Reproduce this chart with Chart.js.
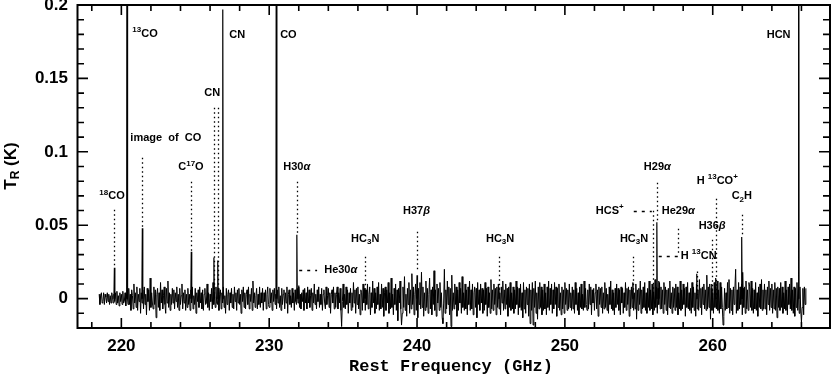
<!DOCTYPE html>
<html><head><meta charset="utf-8">
<script src="https://cdn.jsdelivr.net/npm/chart.js@4"></script>
<style>html,body{margin:0;padding:0;background:#fff;}#wrap{width:831px;height:375px;}</style>
</head><body><div id="wrap"><canvas id="c" width="831" height="375"></canvas></div>
<script>
// ---------------- DATA ----------------
// Baseline noise of the spectrum, mK, channels every 0.05 GHz starting at 218.5 GHz (one row = 1 GHz)
const noiseStartGHz = 218.5;
const noiseStepGHz = 0.05;
const noiseMK = [
3,-4,2,4,-3,-2,4,-4,3,1,-3,4,-2,3,-4,2,-3,4,1,-3,
3,-2,4,-4,5,-3,2,-5,4,-2,3,-4,5,-3,-2,4,-5,3,2,-4,
7,-4,3,-8,6,2,-7,10,-3,4,-6,8,-8,3,-2,7,-10,4,-3,6,
-7,8,-4,3,-11,7,-2,6,-8,14,-6,4,-3,-7,8,-4,6,-13,3,7,
-6,4,-8,11,-3,6,-7,2,8,-4,-10,7,-3,12,-6,4,-8,3,-4,7,
-3,6,-7,4,-2,8,-6,3,-8,7,-4,2,10,-7,4,-3,6,-8,3,-6,
7,-4,3,-8,6,-3,8,-7,2,-4,7,-10,4,-2,6,-6,8,-3,4,-7,
6,-8,3,7,-4,-3,10,-6,4,-8,3,-2,7,-7,11,-4,3,-6,8,-3,
-4,7,-8,3,6,-7,4,-3,8,-6,2,-10,7,-4,3,6,-8,4,-3,7,
-6,3,-7,8,-2,4,-8,6,-3,7,-4,3,-10,6,-2,8,-6,4,-7,3,
6,-4,8,-7,3,-2,7,-8,12,-3,4,-6,2,7,-7,3,-4,8,-6,4,
-3,7,-8,4,-2,6,-7,3,8,-4,-6,7,-3,4,-8,6,-2,7,-4,3,
-7,6,-3,8,-6,2,-8,7,-4,3,6,-7,4,-3,8,-10,3,6,-4,2,
-6,7,-3,4,-8,6,-2,-4,7,-3,8,-6,3,-7,4,-2,6,-8,7,-3,
4,-7,8,-3,6,-6,2,7,-8,4,-3,10,-4,3,-7,6,-2,8,-6,3,
-4,7,-8,3,6,-3,-7,8,-4,2,7,-6,4,-10,3,6,-3,8,-7,4,
-6,3,8,-7,4,-3,7,-8,-19,-2,10,-6,3,-7,8,-4,6,-10,4,-3,
7,-8,4,-6,11,-3,6,-10,7,-4,8,-7,3,-11,6,4,-8,10,-3,7,
-8,6,-4,10,-7,3,8,-11,4,-6,12,-3,7,-10,4,-7,8,-4,11,-8,
3,-7,10,-6,7,-12,4,8,-8,6,-3,11,-10,4,-7,14,-6,3,-11,7,
-4,10,-8,6,-15,7,-3,12,-7,-18,-10,8,-6,15,-8,3,-12,7,-4,11,
-10,6,-7,17,-4,8,-11,3,10,-8,6,-13,7,-4,11,-7,18,-6,8,-12,
4,-8,12,-6,7,-10,3,14,-7,6,-11,8,-4,19,-8,6,-12,10,-3,7,
-8,11,-6,4,-13,-17,-3,20,-10,6,-7,12,-4,8,-11,7,-19,16,-8,4,
-7,10,-4,8,-12,6,-8,11,-3,7,-10,15,-6,4,-8,10,-7,6,-11,8,
-4,12,-8,6,-7,10,-11,4,8,-6,7,-13,11,-4,6,-8,10,-3,7,-10,
6,-8,11,-4,7,-12,8,-6,4,-10,13,-7,6,-8,10,-4,7,-11,8,-6,
10,-7,4,-11,8,-3,12,-8,6,-7,10,-4,7,-12,8,-6,11,-8,4,-7,
8,-10,6,-7,12,-4,8,-11,7,-6,10,-8,4,-13,11,-7,6,-10,8,-4,
7,-12,10,-17,6,-8,11,-18,7,-6,12,-10,4,-14,8,-7,11,-6,8,-11,
6,-8,10,-7,4,-11,8,-6,12,-8,7,-4,10,-10,6,-7,11,-4,8,-12,
7,-6,10,-8,4,-11,8,-7,6,-10,11,-4,7,-8,6,-7,10,-6,4,-8,
8,-7,6,-10,11,-4,7,-8,4,-11,8,-6,10,-7,3,-8,12,-6,7,-4,
-8,6,-7,10,-4,8,-11,6,-3,7,-8,4,10,-7,6,-12,8,-4,7,-6,
8,-10,4,-7,11,-6,7,-8,3,-10,8,-4,12,-7,6,-8,4,-11,7,-6,
10,-4,7,-8,6,-11,8,-3,7,-10,4,-6,11,-8,7,-4,8,-12,6,-7,
8,-6,11,-8,4,-7,10,-14,6,-8,7,-4,12,-10,6,-7,8,-6,11,-8,
4,-10,7,-6,12,-8,6,-7,10,-11,4,-8,13,-6,8,-10,7,-4,11,-7,
8,-7,6,-10,11,-4,8,-8,6,-11,7,-6,12,-7,4,-10,8,-6,7,-8,
10,-6,8,-11,4,-7,12,-8,6,-7,10,-4,7,-12,8,-6,11,-7,4,-8,
7,-10,11,-6,8,-8,4,-12,10,-7,6,-8,13,-6,7,-11,8,-4,10,-7,
6,-8,16,-7,8,-6,10,-14,7,-8,4,-10,11,-6,8,-7,12,-8,6,-10,
11,-7,8,-6,-18,-12,7,-8,4,-7,11,-6,13,-10,7,-8,6,-11,8,-4,
7,20,-10,6,-8,11,-7,8,-4,10,-11,7,-6,8,-10,12,-7,6,-8,11,
8,-6,12,-8,7,-10,6,-7,11,-8,4,-12,8,-6,10,-7,13,-8,6,-7,
10,-7,6,-11,8,-4,12,-8,7,-6,10,-10,6,-7,11,-8,7,-13,8,-6,
7,-8,11,-6,8,-10,4,-7,12,-8,6,-11,8,-4,10,-7,14,-8,6,-10,
8,-12,7,-6,11,-8,6,-10,8,-7,-16,-6,7,-11,8,-4,7
];
// Spectral lines: frequency (GHz) and peak T_R (K); strongest ones run off the top
const lineFreqs = [219.53, 220.39, 221.42, 224.73, 226.26, 226.52, 226.86, 230.49, 231.87, 232.00, 236.49, 240.00, 245.54, 254.59, 255.95, 256.22, 256.35, 258.92, 259.93, 260.20, 261.96, 262.03, 265.81];
const linePeaks = [0.021, 0.5, 0.048, 0.032, 0.028, 0.026, 0.197, 0.5, 0.0435, 0.009, 0.006, 0.016, 0.008, 0.006, 0.010, 0.052, 0.012, 0.017, 0.010, 0.014, 0.042, 0.018, 0.5];
// Tick values
const xTicks = [218,220,222,224,226,228,230,232,234,236,238,240,242,244,246,248,250,252,254,256,258,260,262,264,266,268];
const xTickLabels = ['220','230','240','250','260'];
const yTicks = [-0.02,-0.01,0,0.01,0.02,0.03,0.04,0.05,0.06,0.07,0.08,0.09,0.1,0.11,0.12,0.13,0.14,0.15,0.16,0.17,0.18,0.19,0.2];
const yTickLabels = ['0','0.05','0.1','0.15','0.2'];

// ---------------- ANNOTATION LAYOUT (data units) ----------------
const labelLayout = [
 {t:'^{13}CO', x:220.74, y:0.1806},
 {t:'CN', x:227.30, y:0.1799},
 {t:'CO', x:230.74, y:0.1799},
 {t:'HCN', x:263.65, y:0.1796},
 {t:'CN', x:225.61, y:0.1398},
 {t:'image  of  CO', x:220.61, y:0.1092},
 {t:'C^{17}O', x:223.85, y:0.0895},
 {t:'^{18}CO', x:218.51, y:0.0697},
 {t:'H30α', x:230.95, y:0.0895},
 {t:'He30α', x:233.72, y:0.0197},
 {t:'HC_{3}N', x:235.54, y:0.0405},
 {t:'H37β', x:239.05, y:0.0599},
 {t:'HC_{3}N', x:244.66, y:0.0405},
 {t:'HC_{3}N', x:253.72, y:0.0405},
 {t:'HCS^{+}', x:252.09, y:0.0599},
 {t:'H29α', x:255.34, y:0.0895},
 {t:'He29α', x:256.55, y:0.0599},
 {t:'H ^{13}CO^{+}', x:258.92, y:0.0803},
 {t:'C_{2}H', x:261.28, y:0.0697},
 {t:'H36β', x:259.05, y:0.0497},
 {t:'H ^{13}CN', x:257.84, y:0.0293}
];
const vMarks = [
 [219.53,0.0605,0.021],[221.42,0.0959,0.0483],[224.73,0.0796,0.032],
 [226.26,0.130,0.0],[226.52,0.130,0.0],[231.87,0.0796,0.0435],
 [236.49,0.0286,0.0027],[240.0,0.0456,0.0197],[245.54,0.0286,0.0061],
 [254.59,0.0286,0.0061],[255.95,0.0599,0.0027],[256.22,0.0789,0.0524],
 [257.64,0.0476,0.0293],[258.92,0.0184,0.0027],[259.93,0.0401,0.0],
 [260.20,0.068,0.0],[261.96,0.0571,0.0422]
];
const hMarks = [[0.0197,232.03,233.24],[0.0599,254.66,255.88],[0.0293,256.35,257.64]];

// ---------------- BUILD ----------------
const noisePts = noiseMK.map((v,i)=>({x: noiseStartGHz + i*noiseStepGHz, y: v/1000}));
const linePts = [];
lineFreqs.forEach((f,i)=>{
  linePts.push({x:f-0.03,y:0},{x:f,y:linePeaks[i]},{x:f+0.03,y:0},{x:f+0.031,y:null});
});

function drawRich(ctx, text, x, y){
  const parts = [];
  const re = /\^\{([^}]*)\}|_\{([^}]*)\}|([^\^_]+)/g; let m;
  while((m = re.exec(text))){
    if(m[1]!==undefined) parts.push([m[1],'sup']);
    else if(m[2]!==undefined) parts.push([m[2],'sub']);
    else parts.push([m[3],'n']);
  }
  let cx = x;
  for(const [txt,mode] of parts){
    const chunks = txt.split(/([αβ])/).filter(s=>s.length);
    for(const ch of chunks){
      let size=11, dy=0, style='bold';
      if(mode==='sup'){size=8; dy=-3.5;}
      if(mode==='sub'){size=8; dy=3;}
      if(/[αβ]/.test(ch)) style='italic bold';
      ctx.font = style+' '+size+'px "Liberation Sans", Arial, sans-serif';
      ctx.fillText(ch, cx, y+dy);
      cx += ctx.measureText(ch).width;
    }
  }
}

const deco = {
  id:'deco',
  afterDraw(chart){
    const {ctx, chartArea:a, scales:{x,y}} = chart;
    ctx.save();
    ctx.strokeStyle='#000'; ctx.fillStyle='#000';
    ctx.lineWidth=2;
    ctx.strokeRect(a.left+0.5, a.top, a.right-a.left-1.5, a.bottom-a.top);
    ctx.lineWidth=1.6;
    ctx.beginPath();
    xTicks.forEach(v=>{
      const px=x.getPixelForValue(v); const L = (v%10===0)?10:6;
      ctx.moveTo(px,a.bottom); ctx.lineTo(px,a.bottom-L);
      ctx.moveTo(px,a.top); ctx.lineTo(px,a.top+L);
    });
    yTicks.forEach(v=>{
      const py=y.getPixelForValue(v); const maj = Math.abs(v/0.05-Math.round(v/0.05))<1e-6; const L = maj?11:7;
      ctx.moveTo(a.left,py); ctx.lineTo(a.left+L,py);
      ctx.moveTo(a.right-1,py); ctx.lineTo(a.right-1-L,py);
    });
    ctx.stroke();
    ctx.lineWidth=1.3;
    ctx.setLineDash([1.5,3]);
    ctx.beginPath();
    vMarks.forEach(([f,y1,y2])=>{const px=Math.round(x.getPixelForValue(f))+0.5; ctx.moveTo(px,y.getPixelForValue(y1)); ctx.lineTo(px,y.getPixelForValue(y2));});
    ctx.stroke();
    ctx.setLineDash([3,5]);
    ctx.beginPath();
    hMarks.forEach(([yy,x1,x2])=>{const py=Math.round(y.getPixelForValue(yy))+0.5; ctx.moveTo(x.getPixelForValue(x1),py); ctx.lineTo(x.getPixelForValue(x2),py);});
    ctx.stroke();
    ctx.setLineDash([]);
    ctx.textBaseline='middle'; ctx.textAlign='left';
    labelLayout.forEach(l=>drawRich(ctx,l.t,x.getPixelForValue(l.x),y.getPixelForValue(l.y)));
    ctx.font='bold 17px "Liberation Mono", monospace';
    ctx.textAlign='center';
    ctx.fillText('Rest Frequency (GHz)', 451, 367);
    ctx.save();
    ctx.translate(11,166); ctx.rotate(-Math.PI/2);
    ctx.textAlign='left';
    ctx.font='bold 17px "Liberation Sans", Arial, sans-serif';
    const w1=ctx.measureText('T').width;
    ctx.font='bold 12px "Liberation Sans", Arial, sans-serif';
    const w2=ctx.measureText('R').width;
    ctx.font='bold 17px "Liberation Sans", Arial, sans-serif';
    const w3=ctx.measureText(' (K)').width;
    let sx=-(w1+w2+w3)/2;
    ctx.fillText('T',sx,0); sx+=w1;
    ctx.font='bold 12px "Liberation Sans", Arial, sans-serif';
    ctx.fillText('R',sx,5); sx+=w2;
    ctx.font='bold 17px "Liberation Sans", Arial, sans-serif';
    ctx.fillText(' (K)',sx,0);
    ctx.restore();
    ctx.restore();
  }
};

const tickFont = {family:'"Liberation Sans", Arial, sans-serif', size:17, weight:'bold'};
new Chart(document.getElementById('c'), {
  type:'line',
  data:{datasets:[
    {data:noisePts, borderColor:'#000', borderWidth:1, pointRadius:0, tension:0, fill:false},
    {data:linePts, borderColor:'#000', borderWidth:1.2, pointRadius:0, tension:0, fill:false, spanGaps:false}
  ]},
  options:{
    responsive:false, animation:false, events:[],
    layout:{padding:{top:5,right:0,left:0,bottom:0}},
    plugins:{legend:{display:false}, tooltip:{enabled:false}},
    scales:{
      x:{type:'linear', min:217, max:268,
        afterBuildTicks:(s)=>{s.ticks = xTicks.map(v=>({value:v}));},
        afterFit:(s)=>{s.height=47; s.paddingLeft=0; s.paddingRight=0;},
        grid:{display:false, drawTicks:false}, border:{display:false},
        ticks:{autoSkip:false, maxRotation:0, padding:8, color:'#000', font:tickFont,
          callback:(v)=>{const s=String(v); return xTickLabels.includes(s)?s:'';}}},
      y:{type:'linear', min:-0.02, max:0.2,
        afterBuildTicks:(s)=>{s.ticks = yTicks.map(v=>({value:v}));},
        afterFit:(s)=>{s.width=77; s.paddingTop=0; s.paddingBottom=0;},
        grid:{display:false, drawTicks:false}, border:{display:false},
        ticks:{autoSkip:false, padding:9, color:'#000', font:tickFont,
          callback:(v)=>{const s=String(+(+v).toFixed(2)); return yTickLabels.includes(s)?s:'';}}}
    }
  },
  plugins:[deco]
});
</script></body></html>
